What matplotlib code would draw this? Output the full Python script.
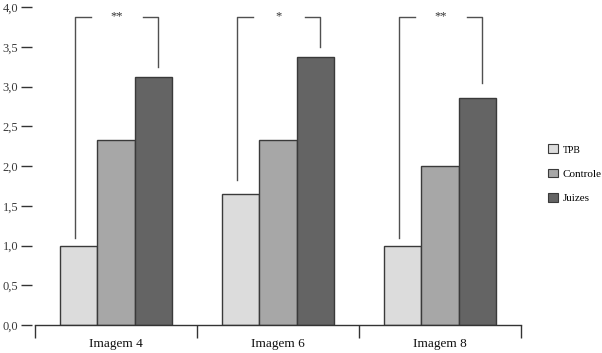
import matplotlib.pyplot as plt
import matplotlib.patches as mpatches
import numpy as np

# data
categories = ['Imagem 4', 'Imagem 6', 'Imagem 8']
groups = ['TPB', 'Controle', 'Juizes']
tpb = [1.0, 1.65, 1.0]
controle = [2.33, 2.33, 2.0]
juizes = [3.12, 3.37, 2.86]
stars = ['**', '*', '**']
# bracket foot heights (left leg, right leg)
left_foot = [1.1, 1.82, 1.1]
right_foot = [3.25, 3.5, 3.04]
bracket_top = 3.87

colors = ['#dcdcdc', '#a7a7a7', '#646464']
edge = '#3a3a3a'

plt.rcParams['font.family'] = ['Liberation Serif', 'DejaVu Serif']

fig = plt.figure(figsize=(6.02, 3.53), dpi=100)
ax = fig.add_axes([35 / 602, 28 / 353, 486 / 602, 318 / 353])

x = np.arange(len(categories))
w = 0.229
for k, vals in enumerate([tpb, controle, juizes]):
    ax.bar(x + (k - 1) * w, vals, width=w, color=colors[k],
           edgecolor=edge, linewidth=1.0, zorder=2)

# significance brackets
for i in range(len(categories)):
    xl, xr = i - 0.255, i + 0.26
    gl, gr = i - 0.155, i + 0.165
    lc = '#505050'
    ax.plot([xl, xl, gl], [left_foot[i], bracket_top, bracket_top],
            color=lc, lw=1.0, zorder=3)
    ax.plot([gr, xr, xr], [bracket_top, bracket_top, right_foot[i]],
            color=lc, lw=1.0, zorder=3)
    ax.text(i + 0.005, bracket_top + 0.01, stars[i], ha='center', va='center',
            fontsize=9, color='#333333')

ax.set_xlim(-0.5, 2.5)
ax.set_ylim(0, 4.0)

ax.set_yticks(np.arange(0, 4.01, 0.5))
ax.set_yticklabels([f'{v:.1f}'.replace('.', ',') for v in np.arange(0, 4.01, 0.5)])
ax.set_xticks([-0.5, 0.5, 1.5, 2.5])
ax.set_xticklabels([])
ax.set_xticks(x, minor=True)
ax.set_xticklabels(categories, minor=True)

for s in ['top', 'right', 'left']:
    ax.spines[s].set_visible(False)
ax.spines['left'].set_position(('outward', 2))
ax.spines['bottom'].set_color('#333333')
ax.spines['bottom'].set_linewidth(1.0)

ax.tick_params(axis='y', length=8, width=1.0, color='#333333',
               labelsize=9, pad=2, labelcolor='#3a3a3a')
ax.tick_params(axis='x', which='major', length=9, width=1.0,
               color='#333333', direction='out')
ax.tick_params(axis='x', which='minor', length=0, labelsize=9.5,
               pad=9, labelcolor='#111111')

handles = [mpatches.Patch(facecolor=c, edgecolor=edge, linewidth=0.8)
           for c in colors]
leg = fig.legend(handles, groups, loc='upper left',
                 bbox_to_anchor=(544 / 602, 1 - 140 / 353), frameon=False,
                 fontsize=8, handlelength=0.85, handleheight=0.85,
                 handletextpad=0.4, labelspacing=1.25, borderaxespad=0)
leg.get_texts()[0].set_fontsize(7)

fig.savefig('out.png', dpi=100)
